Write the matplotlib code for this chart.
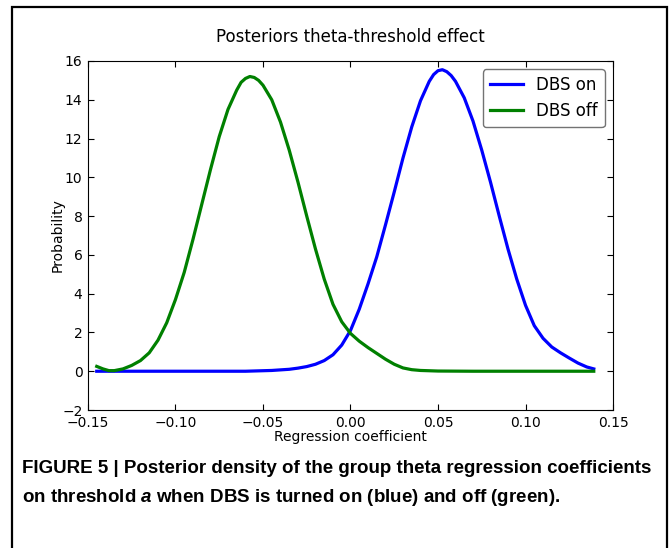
import matplotlib
matplotlib.use('Agg')
from matplotlib import pyplot as plt
from matplotlib.patches import Rectangle

plt.rcParams['mathtext.fontset'] = 'custom'
plt.rcParams['mathtext.bfit'] = 'Liberation Sans:italic:bold'

# regression coefficient / probability
on_x = [-0.145, -0.12, -0.09, -0.06, -0.045, -0.035, -0.03, -0.025, -0.02, -0.015,
        -0.01, -0.005, 0.0, 0.005, 0.01, 0.015, 0.02, 0.025, 0.03, 0.035,
        0.04, 0.045, 0.0475, 0.05, 0.0525, 0.055, 0.0575, 0.06, 0.065, 0.07,
        0.075, 0.08, 0.085, 0.09, 0.095, 0.10, 0.105, 0.11, 0.115, 0.12,
        0.125, 0.13, 0.135, 0.139]
on_y = [0.0, 0.0, 0.0, 0.0, 0.04, 0.1, 0.16, 0.24, 0.36, 0.55,
        0.85, 1.35, 2.1, 3.2, 4.5, 5.9, 7.55, 9.25, 11.0, 12.6,
        13.95, 14.95, 15.3, 15.5, 15.55, 15.45, 15.25, 14.95, 14.1, 12.9,
        11.4, 9.75, 8.0, 6.3, 4.75, 3.4, 2.35, 1.7, 1.25, 0.95,
        0.68, 0.42, 0.22, 0.12]

off_x = [-0.145, -0.1414, -0.138, -0.135, -0.13, -0.125, -0.12, -0.115, -0.11, -0.105,
         -0.10, -0.095, -0.09, -0.085, -0.08, -0.075, -0.07, -0.065, -0.0625, -0.06,
         -0.0575, -0.055, -0.0525, -0.05, -0.045, -0.04, -0.035, -0.03, -0.025, -0.02,
         -0.015, -0.01, -0.005, 0.0, 0.005, 0.01, 0.015, 0.02, 0.025, 0.03,
         0.035, 0.04, 0.05, 0.07, 0.10, 0.139]
off_y = [0.25, 0.12, 0.03, 0.03, 0.12, 0.3, 0.55, 0.95, 1.6, 2.5,
         3.7, 5.1, 6.8, 8.6, 10.4, 12.1, 13.5, 14.5, 14.9, 15.1,
         15.2, 15.15, 15.0, 14.75, 14.0, 12.85, 11.4, 9.75, 8.0, 6.3,
         4.75, 3.45, 2.55, 1.95, 1.55, 1.22, 0.92, 0.62, 0.36, 0.17,
         0.08, 0.04, 0.01, 0.0, 0.0, 0.0]

caption = ('FIGURE 5 | Posterior density of the group theta regression coefficients\n'
           'on threshold $\\mathbfit{a}$ when DBS is turned on (blue) and off (green).')

fig = plt.figure(figsize=(6.71, 5.48), dpi=100)
ax = fig.add_axes([0.1311, 0.2518, 0.7825, 0.6369])

ax.plot(on_x, on_y, color='b', lw=2.3, label='DBS on')
ax.plot(off_x, off_y, color='g', lw=2.3, label='DBS off')

ax.set_xlim(-0.15, 0.15)
ax.set_ylim(-2, 16)
ax.set_xticks([-0.15, -0.10, -0.05, 0.0, 0.05, 0.10, 0.15])
ax.set_yticks(range(-2, 17, 2))
ax.set_xticklabels(['\u22120.15', '\u22120.10', '\u22120.05', '0.00', '0.05', '0.10', '0.15'])
ax.set_yticklabels(['\u22122'] + [str(v) for v in range(0, 17, 2)])
ax.tick_params(direction='in', top=True, right=True, length=4, labelsize=10, pad=4)

ax.set_title('Posteriors theta-threshold effect', fontsize=12, pad=14)
ax.set_xlabel('Regression coefficient', fontsize=10, labelpad=0)
ax.set_ylabel('Probability', fontsize=10, labelpad=-2)

leg = ax.legend(loc='upper right', fontsize=12, framealpha=1, handlelength=2.0,
                borderaxespad=0.5)
leg.get_frame().set_edgecolor('0.45')

# outer frame of the figure panel
fig.patches.append(Rectangle((12 / 671, -0.05), 655 / 671, 1 - 7 / 548 + 0.05,
                             transform=fig.transFigure, fill=False,
                             edgecolor='black', lw=1.6))

cap = fig.text(22 / 671, 1 - 484 / 548, caption, fontsize=13, fontweight='bold',
               family='Liberation Sans', va='center', linespacing=1.63)

# shrink the caption so its first line spans the panel like in the figure
fig.canvas.draw()
w = cap.get_window_extent().width
cap.set_fontsize(13 * 629 / w)

fig.savefig('out.png', dpi=100)
